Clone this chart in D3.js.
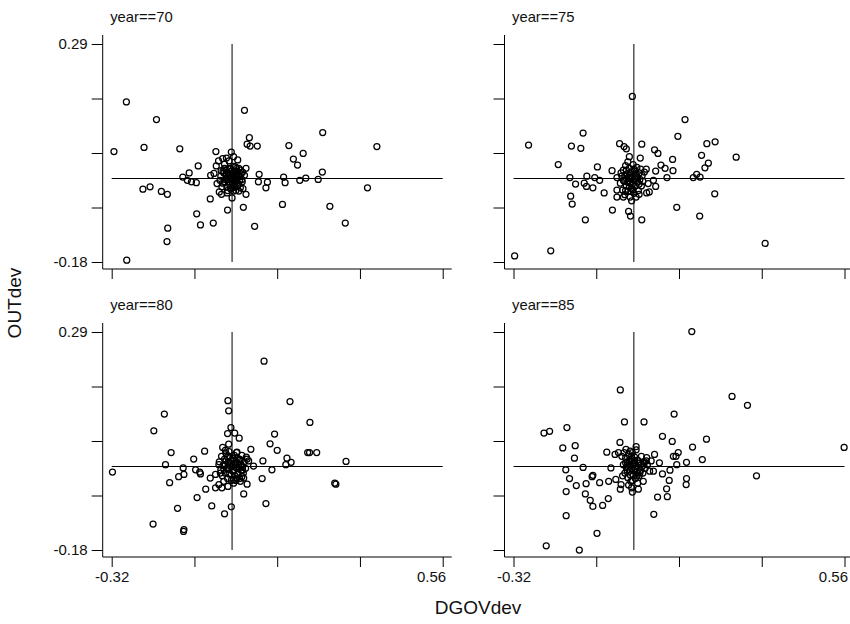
<!DOCTYPE html>
<html>
<head>
<meta charset="utf-8">
<script src="https://cdn.jsdelivr.net/npm/d3@7"></script>
<style>
  body { margin: 0; background: #fff; }
  text { font-family: "Liberation Sans", Arial, sans-serif; fill: #111; }
</style>
</head>
<body>
<div id="b1"></div>
<script>
// panel titles
const years = [70, 75, 80, 85];

// axis ticks (only the ends are labelled)
const xTicks = [-0.32, -0.10, 0.12, 0.34, 0.56];
const yTicks = [-0.18, -0.0625, 0.055, 0.1725, 0.29];
const xLabels = ["-0.32", "0.56"];
const yLabels = ["-0.18", "0.29"];

// [DGOVdev, OUTdev]
const year70 = [
  [-0.281,0.165],[-0.201,0.127],[-0.314,0.058],[-0.234,0.067],[-0.139,0.064],[0.033,0.147],[0.046,0.088],[0.040,0.074],
  [0.048,0.070],[0.067,0.070],[-0.043,0.058],[-0.002,0.057],[-0.090,0.027],[-0.131,0.003],[-0.114,0.012],[-0.119,-0.004],
  [-0.108,-0.007],[-0.095,-0.009],[-0.237,-0.023],[-0.218,-0.018],[-0.188,-0.028],[-0.172,-0.034],[-0.058,-0.044],[0.000,-0.042],
  [-0.012,-0.068],[0.030,-0.062],[-0.094,-0.076],[-0.084,-0.100],[-0.050,-0.096],[0.060,-0.103],[-0.171,-0.107],[-0.173,-0.136],
  [-0.280,-0.176],[0.072,0.009],[0.070,-0.007],[0.094,-0.008],[0.090,-0.020],[0.037,0.022],[0.241,0.099],[0.151,0.071],
  [0.385,0.069],[0.163,0.042],[0.189,0.054],[0.174,0.029],[0.240,0.014],[0.137,0.003],[0.141,-0.009],[0.180,-0.004],
  [0.196,0.001],[0.229,-0.002],[0.360,-0.020],[0.134,-0.056],[0.260,-0.060],[0.301,-0.096],
  [-0.036,0.038],[-0.025,0.043],[-0.015,0.044],[-0.008,0.038],[0.004,0.047],[0.015,0.040],[-0.020,0.031],[-0.042,0.027],
  [-0.029,0.017],[-0.057,0.007],[-0.048,0.011],[-0.040,-0.011],[-0.034,-0.029],[-0.028,-0.034],[-0.013,-0.031],[0.004,-0.027],
  [0.018,-0.027],[0.029,-0.022],[0.037,-0.034],[0.027,-0.007],[0.033,0.007],[0.022,0.018],[0.009,0.025],[-0.006,0.022],
  [-0.030,0.005],[-0.025,-0.010],[-0.022,0.012],[-0.018,-0.002],[-0.015,0.018],[-0.014,-0.018],[-0.010,0.006],[-0.008,-0.008],
  [-0.006,0.020],[-0.004,-0.022],[-0.002,0.002],[0.000,0.010],[0.001,-0.012],[0.003,0.004],[0.005,-0.004],[0.006,0.016],
  [0.008,-0.018],[0.010,0.008],[0.012,-0.006],[0.014,0.002],[0.016,0.014],[0.018,-0.012],[0.020,0.004],[0.022,-0.020],
  [0.024,0.010],[0.026,-0.002],[-0.027,-0.018],[-0.020,0.022],[-0.012,-0.026],[0.004,0.026],[0.012,0.022],[-0.016,0.008],
  [-0.006,-0.014],[0.018,0.022],[0.028,0.014],[-0.032,-0.004],[0.010,-0.026],[-0.002,0.016],[0.008,0.000],[-0.010,-0.002],
  [-0.004,0.006],[0.006,-0.010],[-0.014,0.000],[0.016,0.006],[0.000,-0.004],[-0.008,0.012],[0.010,0.016],[-0.020,-0.008],
  [0.020,-0.004],[0.002,-0.020],[-0.024,0.016],[0.014,-0.016]
];

const year75 = [
  [-0.004,0.177],[-0.135,0.098],[-0.280,0.072],[-0.166,0.070],[-0.141,0.065],[-0.038,0.075],[-0.026,0.069],[-0.020,0.064],
  [0.021,0.074],[0.055,0.062],[0.064,0.054],[0.117,0.091],[-0.012,0.047],[0.017,0.044],[0.103,0.041],[-0.201,0.030],
  [-0.097,0.025],[-0.058,0.017],[0.072,0.029],[0.083,0.022],[0.104,0.017],[0.088,0.002],[0.058,0.016],[-0.170,0.002],
  [-0.155,-0.012],[-0.125,0.005],[-0.132,-0.010],[-0.126,-0.017],[-0.109,-0.020],[-0.104,0.002],[-0.091,-0.004],[-0.079,-0.031],
  [-0.168,-0.038],[-0.164,-0.055],[-0.045,0.002],[-0.045,-0.025],[-0.045,-0.040],[-0.057,-0.068],[-0.014,-0.071],[-0.009,-0.081],
  [0.021,-0.089],[-0.129,-0.089],[0.114,-0.062],[0.034,-0.031],[0.041,-0.029],[0.058,-0.017],[0.038,-0.011],[0.052,-0.004],
  [0.033,0.020],[-0.221,-0.156],[-0.317,-0.167],[0.136,0.127],[0.194,0.075],[0.216,0.079],[0.180,0.050],[0.272,0.046],
  [0.198,0.033],[0.189,0.023],[0.158,0.002],[0.167,0.009],[0.176,0.003],[0.215,-0.033],[0.175,-0.081],[0.349,-0.140],
  [-0.036,-0.010],[-0.032,0.005],[-0.030,-0.025],[-0.028,0.018],[-0.026,-0.006],[-0.024,-0.035],[-0.022,0.028],[-0.020,-0.016],
  [-0.018,0.010],[-0.016,-0.028],[-0.014,0.000],[-0.012,0.022],[-0.010,-0.040],[-0.010,-0.010],[-0.008,0.014],[-0.006,-0.022],
  [-0.004,0.004],[-0.002,0.030],[0.000,-0.032],[0.000,-0.004],[0.002,0.016],[0.004,-0.016],[0.006,0.006],[0.008,0.024],
  [0.010,-0.008],[0.012,-0.026],[0.014,0.012],[0.016,-0.002],[0.018,0.020],[0.020,-0.016],[0.022,0.006],[0.024,-0.006],
  [-0.034,0.012],[-0.020,0.000],[-0.006,-0.048],[-0.016,0.036],[0.006,-0.040],[-0.028,-0.040],[0.014,-0.034],[-0.012,0.006],
  [0.002,0.000],[-0.024,0.006],[0.028,0.014],[-0.004,-0.012],
  [-0.016,-0.008],[-0.008,-0.028],[0.004,0.010],[-0.002,-0.024],[-0.020,0.018],[0.010,0.002],[-0.028,-0.004],[0.014,-0.012],
  [-0.008,0.000],[-0.012,-0.018],[0.000,0.020],[-0.022,-0.026]
];

const year80 = [
  [0.085,0.227],[-0.011,0.142],[-0.009,0.120],[-0.180,0.113],[-0.208,0.077],[-0.003,0.084],[-0.012,0.071],[0.007,0.072],
  [0.019,0.061],[0.113,0.070],[0.101,0.049],[0.120,0.035],[-0.162,0.030],[-0.073,0.033],[-0.102,0.016],[-0.177,0.004],
  [-0.318,-0.012],[-0.130,-0.003],[-0.128,-0.017],[-0.142,-0.022],[-0.166,-0.035],[-0.097,-0.007],[-0.086,-0.012],[-0.084,-0.016],
  [-0.058,-0.025],[-0.070,-0.049],[-0.093,-0.067],[-0.044,-0.046],[-0.035,-0.039],[-0.027,-0.046],[-0.011,-0.043],[0.031,-0.059],
  [0.040,-0.038],[0.080,-0.026],[0.106,-0.007],[0.082,0.012],[0.050,0.037],[0.090,-0.080],[-0.054,-0.085],[-0.002,-0.087],
  [-0.020,-0.102],[-0.145,-0.090],[-0.210,-0.124],[-0.128,-0.136],[-0.129,-0.140],[-0.025,0.041],[-0.018,0.035],[-0.009,0.048],
  [0.013,0.031],[0.038,0.020],[0.044,0.012],[0.057,0.001],[0.031,-0.025],[0.022,-0.032],[-0.035,0.004],[-0.044,-0.017],
  [-0.031,-0.014],[0.004,-0.028],[0.013,-0.025],[0.154,0.140],[0.207,0.095],[0.201,0.030],[0.206,0.030],[0.225,0.030],
  [0.146,0.018],[0.143,0.004],[0.157,0.009],[0.303,0.011],[0.273,-0.036],[0.276,-0.038],
  [-0.034,0.010],[-0.030,-0.008],[-0.028,0.022],[-0.026,-0.020],[-0.024,0.002],[-0.020,0.016],[-0.018,-0.014],[-0.016,0.028],
  [-0.014,-0.004],[-0.012,-0.026],[-0.010,0.010],[-0.008,-0.016],[-0.006,0.022],[-0.004,0.000],[-0.002,-0.030],[0.000,0.014],
  [0.002,-0.010],[0.004,0.004],[0.006,0.024],[0.008,-0.020],[0.010,0.010],[0.012,-0.004],[0.014,0.018],[0.016,-0.016],
  [0.018,0.004],[0.020,-0.026],[0.022,0.014],[0.024,-0.008],[0.026,0.024],[0.028,0.000],[0.030,-0.014],[0.032,0.010],
  [0.036,-0.004],[-0.022,-0.032],[0.012,0.030],[-0.008,0.032],[0.004,-0.036],[-0.018,0.004],[0.018,-0.002],[0.000,0.000],
  [0.008,0.006],[-0.010,-0.006],[0.040,0.016],[0.026,-0.022],
  [-0.006,0.006],[0.006,-0.008],[-0.016,0.012],[0.014,0.008],[-0.002,-0.018],[0.020,0.016],[-0.022,-0.006],[0.028,-0.008],
  [0.010,-0.030],[-0.012,0.020],[0.002,0.018],[0.024,0.004]
];

const year85 = [
  [-0.036,0.165],[-0.025,0.096],[0.027,0.096],[0.107,0.113],[-0.239,0.072],[-0.224,0.076],[-0.178,0.084],[0.076,0.065],
  [0.102,0.054],[-0.037,0.052],[0.006,0.043],[-0.189,0.040],[-0.156,0.045],[-0.158,0.018],[-0.072,0.031],[-0.050,0.026],
  [-0.041,0.030],[-0.021,0.037],[-0.010,0.033],[-0.032,0.022],[-0.181,-0.007],[-0.171,-0.026],[-0.153,-0.041],[-0.180,-0.054],
  [-0.135,-0.002],[-0.109,-0.019],[-0.111,-0.022],[-0.127,-0.037],[-0.129,-0.059],[-0.116,-0.073],[-0.109,-0.086],[-0.091,-0.035],
  [-0.067,-0.032],[-0.048,-0.028],[-0.034,-0.039],[-0.036,-0.049],[-0.061,-0.003],[-0.083,-0.084],[-0.068,-0.069],[-0.004,-0.055],
  [0.012,-0.049],[0.025,-0.032],[-0.180,-0.106],[-0.098,-0.144],[-0.233,-0.171],[-0.145,-0.180],[0.053,-0.103],[0.063,-0.066],
  [0.089,-0.065],[0.087,-0.048],[0.094,-0.030],[0.076,-0.016],[0.096,-0.008],[0.055,0.026],[0.034,0.019],[0.033,0.012],
  [0.052,-0.010],[0.068,0.008],[0.114,0.004],[0.105,0.022],[0.118,0.030],[0.154,0.291],[0.261,0.151],[0.302,0.132],
  [0.193,0.059],[0.156,0.042],[0.112,0.022],[0.182,0.015],[0.140,0.009],[0.140,-0.026],[0.139,-0.039],[0.326,-0.020],
  [0.559,0.041],
  [-0.028,0.004],[-0.024,-0.014],[-0.022,0.018],[-0.020,-0.002],[-0.018,0.010],[-0.016,-0.024],[-0.014,0.026],[-0.012,-0.010],
  [-0.010,0.004],[-0.008,-0.032],[-0.008,0.016],[-0.006,-0.004],[-0.004,0.030],[-0.002,-0.018],[0.000,0.008],[0.000,-0.008],
  [0.002,0.020],[0.004,-0.026],[0.006,0.002],[0.008,-0.012],[0.010,0.014],[0.012,-0.002],[0.014,-0.020],[0.016,0.008],
  [0.018,-0.008],[0.020,0.022],[0.022,0.000],[0.024,-0.014],[0.028,0.010],[0.030,-0.004],[-0.030,-0.020],[-0.014,-0.040],
  [-0.026,0.030],[0.006,0.036],[-0.002,0.004],[-0.016,0.000],[0.036,0.004],[0.042,-0.010],[0.046,0.012],[-0.006,-0.046],
  [0.010,-0.036],[-0.004,0.012],
  [-0.010,-0.018],[0.004,-0.004],[-0.018,-0.008],[0.012,0.006],[-0.006,0.022],[0.016,-0.014],[-0.022,0.008],[0.002,0.012],
  [-0.012,0.012],[0.008,-0.020],[0.026,0.006],[-0.004,-0.030]
];

const seriesList = [year70, year75, year80, year85];

const width = 850;
const height = 624;
const xDomain = [-0.32, 0.56];
const yDomain = [-0.18, 0.29];

// panel grid: columns give x range, rows give y range
const cols = [
  {left: 111.7, right: 442.7, axis: 102.7},
  {left: 513.5, right: 844.5, axis: 504.5}
];
const rows = [
  {top: 44, bottom: 262},
  {top: 332, bottom: 550}
];

const svg = d3.create("svg")
    .attr("width", width)
    .attr("height", height)
    .attr("viewBox", [0, 0, width, height])
;

svg.append("rect")
    .attr("width", width)
    .attr("height", height)
    .attr("fill", "#fff")
;

years.forEach((yr, i) => {
    const c = cols[i % 2];
    const r = rows[Math.floor(i / 2)];
    const x = d3.scaleLinear().domain(xDomain).range([c.left, c.right]);
    const y = d3.scaleLinear().domain(yDomain).range([r.bottom, r.top]);
    const xAxisY = r.bottom + 7;

    const g = svg.append("g").attr("class", "panel");

    // title
    g.append("text")
        .attr("x", c.left - 1.5)
        .attr("y", r.top - 27)
        .attr("dominant-baseline", "central")
        .attr("font-size", 14.8)
        .text("year==" + yr)
    ;

    // axis lines (a bit longer than the ticks, like Stata)
    g.append("line")
        .attr("x1", c.axis).attr("x2", c.axis)
        .attr("y1", r.top - 9).attr("y2", xAxisY)
        .attr("stroke", "#000")
    ;
    g.append("line")
        .attr("x1", c.axis).attr("x2", c.right + 9)
        .attr("y1", xAxisY).attr("y2", xAxisY)
        .attr("stroke", "#000")
    ;

    // y axis
    const yAxis = g.append("g")
        .attr("transform", `translate(${c.axis},0)`)
        .call(d3.axisLeft(y)
            .tickValues(yTicks)
            .tickSize(11)
            .tickSizeOuter(0)
            .tickPadding(4)
            .tickFormat((d, k) => (i % 2 === 0 && (k === 0 || k === yTicks.length - 1))
                ? yLabels[k === 0 ? 0 : 1] : ""))
    ;
    yAxis.select(".domain").remove();
    yAxis.selectAll("text").attr("font-size", 15).attr("font-family", null).attr("fill", "#111");

    // x axis
    const xAxis = g.append("g")
        .attr("transform", `translate(0,${xAxisY})`)
        .call(d3.axisBottom(x)
            .tickValues(xTicks)
            .tickSize(10)
            .tickSizeOuter(0)
            .tickPadding(4)
            .tickFormat((d, k) => (i >= 2 && (k === 0 || k === xTicks.length - 1))
                ? xLabels[k === 0 ? 0 : 1] : ""))
    ;
    xAxis.select(".domain").remove();
    xAxis.selectAll("text").attr("font-size", 15).attr("font-family", null).attr("fill", "#111");
    // last label sits left of its tick
    xAxis.selectAll(".tick").filter((d, k) => k === xTicks.length - 1)
        .select("text")
        .attr("text-anchor", "end")
        .attr("x", 3)
    ;

    // reference lines at zero
    g.append("line")
        .attr("x1", x(0)).attr("x2", x(0))
        .attr("y1", y(yDomain[0])).attr("y2", y(yDomain[1]))
        .attr("stroke", "#000")
    ;
    g.append("line")
        .attr("x1", x(xDomain[0])).attr("x2", x(xDomain[1]))
        .attr("y1", y(0)).attr("y2", y(0))
        .attr("stroke", "#000")
    ;

    // points
    g.append("g")
        .selectAll("circle")
        .data(seriesList[i])
        .join("circle")
            .attr("cx", d => x(d[0]))
            .attr("cy", d => y(d[1]))
            .attr("r", 3)
            .attr("fill", "none")
            .attr("stroke", "#000")
            .attr("stroke-width", 1.25)
    ;
});

// axis titles
svg.append("text")
    .attr("x", 478)
    .attr("y", 607)
    .attr("text-anchor", "middle")
    .attr("dominant-baseline", "central")
    .attr("font-size", 19)
    .text("DGOVdev")
;
svg.append("text")
    .attr("transform", "translate(14,303) rotate(-90)")
    .attr("text-anchor", "middle")
    .attr("dominant-baseline", "central")
    .attr("font-size", 19)
    .text("OUTdev")
;

document.getElementById("b1").append(svg.node());
</script>
</body>
</html>
